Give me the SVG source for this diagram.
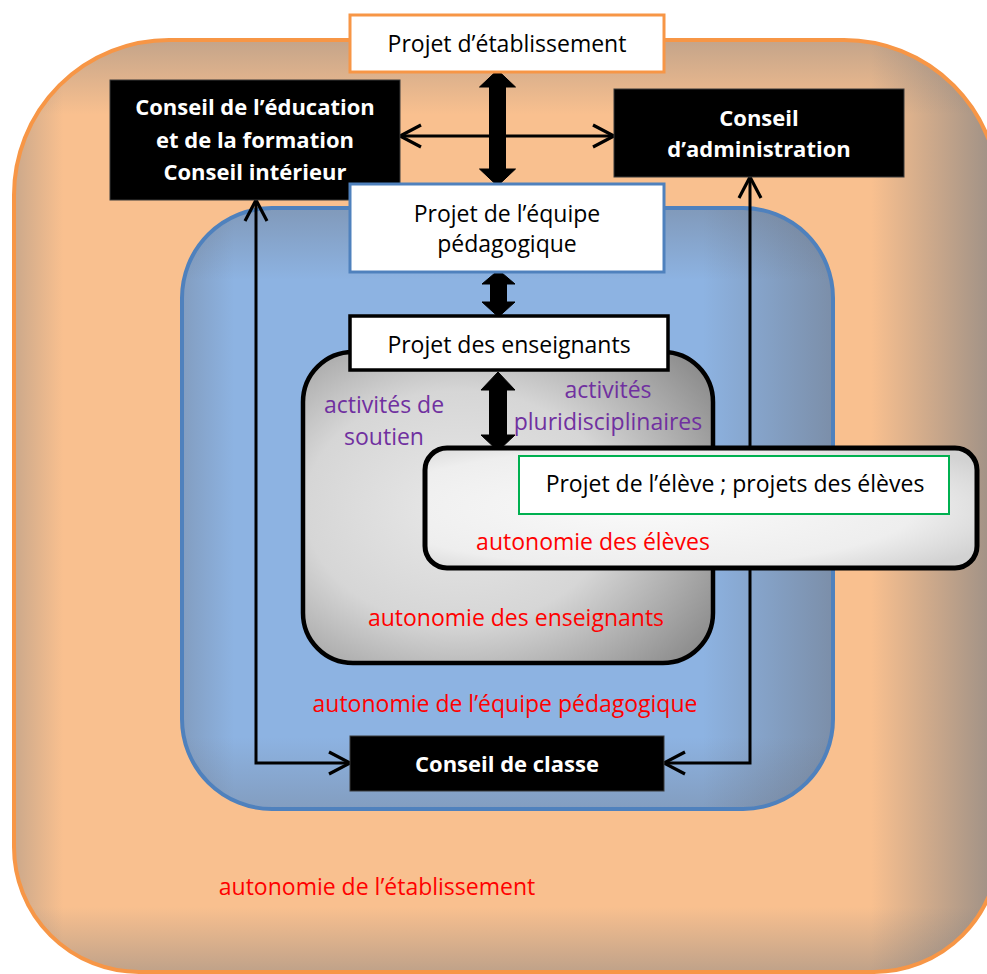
<svg xmlns="http://www.w3.org/2000/svg" width="987" height="974" viewBox="0 0 987 974">
<defs>
<style>
.t{font-family:"Open Sans","Liberation Sans",sans-serif;font-size:23px;text-anchor:middle;fill:#000}
.b{font-weight:bold;font-size:22px;fill:#fff}
.red{fill:#FF0000}
.pur{fill:#7030A0}
.box{fill:#fff}
.blackbox{fill:#000;stroke:#3a3a3a;stroke-width:1}
.line{fill:none;stroke:#000;stroke-width:3}
.block{fill:#000;stroke:#000;stroke-width:1}
</style>
<linearGradient id="oH" x1="0" y1="0" x2="1" y2="0">
<stop offset="0" stop-color="#607080" stop-opacity="0.3"/>
<stop offset="0.05" stop-color="#607080" stop-opacity="0"/>
<stop offset="0.87" stop-color="#607080" stop-opacity="0"/>
<stop offset="1" stop-color="#607080" stop-opacity="0.62"/>
</linearGradient>
<linearGradient id="oV" x1="0" y1="0" x2="0" y2="1">
<stop offset="0" stop-color="#607080" stop-opacity="0.35"/>
<stop offset="0.08" stop-color="#607080" stop-opacity="0"/>
<stop offset="0.93" stop-color="#607080" stop-opacity="0"/>
<stop offset="1" stop-color="#607080" stop-opacity="0.38"/>
</linearGradient>
<linearGradient id="bH" x1="0" y1="0" x2="1" y2="0">
<stop offset="0" stop-color="#6a6a70" stop-opacity="0.3"/>
<stop offset="0.08" stop-color="#6a6a70" stop-opacity="0"/>
<stop offset="0.8" stop-color="#6a6a70" stop-opacity="0"/>
<stop offset="1" stop-color="#6a6a70" stop-opacity="0.5"/>
</linearGradient>
<linearGradient id="bV" x1="0" y1="0" x2="0" y2="1">
<stop offset="0" stop-color="#6a6a70" stop-opacity="0.35"/>
<stop offset="0.12" stop-color="#6a6a70" stop-opacity="0"/>
<stop offset="0.88" stop-color="#6a6a70" stop-opacity="0"/>
<stop offset="1" stop-color="#6a6a70" stop-opacity="0.3"/>
</linearGradient>
<radialGradient id="gG" cx="0.38" cy="0.5" r="0.75">
<stop offset="0" stop-color="#E8E8E8"/>
<stop offset="0.5" stop-color="#D6D6D6"/>
<stop offset="1" stop-color="#8A8A8A"/>
</radialGradient>
<radialGradient id="eG" cx="0.4" cy="0.5" r="0.7">
<stop offset="0" stop-color="#FAFAFA"/>
<stop offset="0.7" stop-color="#EEEEEE"/>
<stop offset="1" stop-color="#D2D2D2"/>
</radialGradient>
<marker id="open" viewBox="-24 -13 26 26" refX="0" refY="0" markerWidth="26" markerHeight="26" markerUnits="userSpaceOnUse" orient="auto-start-reverse">
<path d="M-21,-11 L0,0 L-21,11" fill="none" stroke="#000" stroke-width="3.2"/>
</marker>
</defs>

<g id="etablissement-zone">
<path d="M169,40 H844 A155,155 0 0 1 999,195 V847 A125,125 0 0 1 874,972 H139 A125,125 0 0 1 14,847 V195 A155,155 0 0 1 169,40 Z" fill="#F9C08F"/>
<path d="M169,40 H844 A155,155 0 0 1 999,195 V847 A125,125 0 0 1 874,972 H139 A125,125 0 0 1 14,847 V195 A155,155 0 0 1 169,40 Z" fill="url(#oH)"/>
<path d="M169,40 H844 A155,155 0 0 1 999,195 V847 A125,125 0 0 1 874,972 H139 A125,125 0 0 1 14,847 V195 A155,155 0 0 1 169,40 Z" fill="url(#oV)"/>
<path d="M169,40 H844 A155,155 0 0 1 999,195 V847 A125,125 0 0 1 874,972 H139 A125,125 0 0 1 14,847 V195 A155,155 0 0 1 169,40 Z" fill="none" stroke="#F79646" stroke-width="4"/>
<text class="t red" x="377" y="895">autonomie de l’établissement</text>
</g>

<g id="equipe-zone">
<rect x="182" y="208" width="651" height="601" rx="90" fill="#8DB3E2"/>
<rect x="182" y="208" width="651" height="601" rx="90" fill="url(#bH)"/>
<rect x="182" y="208" width="651" height="601" rx="90" fill="url(#bV)"/>
<rect x="182" y="208" width="651" height="601" rx="90" fill="none" stroke="#4F81BD" stroke-width="4"/>
<text class="t red" x="505" y="712">autonomie de l’équipe pédagogique</text>
</g>

<g id="enseignants-zone">
<rect x="303" y="352" width="410" height="311" rx="50" fill="url(#gG)" stroke="#000" stroke-width="4.5"/>
<text class="t pur" x="384" y="413">activités de</text>
<text class="t pur" x="384" y="445">soutien</text>
<text class="t pur" x="608" y="398">activités</text>
<text class="t pur" x="608" y="430">pluridisciplinaires</text>
<text class="t red" x="516" y="626">autonomie des enseignants</text>
</g>

<g id="connectors">
<path class="line" d="M400,136 H614" marker-start="url(#open)" marker-end="url(#open)"/>
<path class="line" d="M350,763 H256 V200" marker-start="url(#open)" marker-end="url(#open)"/>
<path class="line" d="M664,763 H750 V177" marker-start="url(#open)" marker-end="url(#open)"/>
<polygon class="block" points="497.5,70 515.5,87 505.5,87 505.5,169 515.5,169 497.5,186 479.5,169 489.5,169 489.5,87 479.5,87"/>
<polygon class="block" points="498.5,270 515,284 506.5,284 506.5,302 515,302 498.5,317 482,302 490.5,302 490.5,284 482,284"/>
<polygon class="block" points="498,372 515,390 506.5,390 506.5,435 515,435 498,451 481,435 489.5,435 489.5,390 481,390"/>
</g>

<g id="conseil-education">
<rect class="blackbox" x="110" y="80" width="290" height="120"/>
<text class="t b" x="255" y="115">Conseil de l’éducation</text>
<text class="t b" x="255" y="148">et de la formation</text>
<text class="t b" x="255" y="180">Conseil intérieur</text>
</g>

<g id="conseil-administration">
<rect class="blackbox" x="614" y="89" width="290" height="88"/>
<text class="t b" x="759" y="126">Conseil</text>
<text class="t b" x="759" y="157">d’administration</text>
</g>

<g id="projet-etablissement">
<rect class="box" x="350" y="15" width="314" height="57" stroke="#F79646" stroke-width="3"/>
<text class="t" x="507" y="52">Projet d’établissement</text>
</g>

<g id="projet-equipe">
<rect class="box" x="350" y="184" width="314" height="88" stroke="#4F81BD" stroke-width="3"/>
<text class="t" x="507" y="222">Projet de l’équipe</text>
<text class="t" x="507" y="252">pédagogique</text>
</g>

<g id="projet-enseignants">
<rect class="box" x="350" y="316" width="318" height="54" stroke="#000" stroke-width="3.5"/>
<text class="t" x="509" y="353">Projet des enseignants</text>
</g>

<g id="eleves-zone">
<rect x="425" y="448" width="552" height="120" rx="22" fill="url(#eG)" stroke="#000" stroke-width="5"/>
<text class="t red" x="593" y="550">autonomie des élèves</text>
</g>

<g id="projet-eleve">
<rect class="box" x="519" y="456" width="430" height="58" stroke="#00B050" stroke-width="2"/>
<text class="t" x="735" y="492">Projet de l’élève ; projets des élèves</text>
</g>

<g id="conseil-classe">
<rect class="blackbox" x="350" y="736" width="314" height="55"/>
<text class="t b" x="507" y="772">Conseil de classe</text>
</g>
</svg>
